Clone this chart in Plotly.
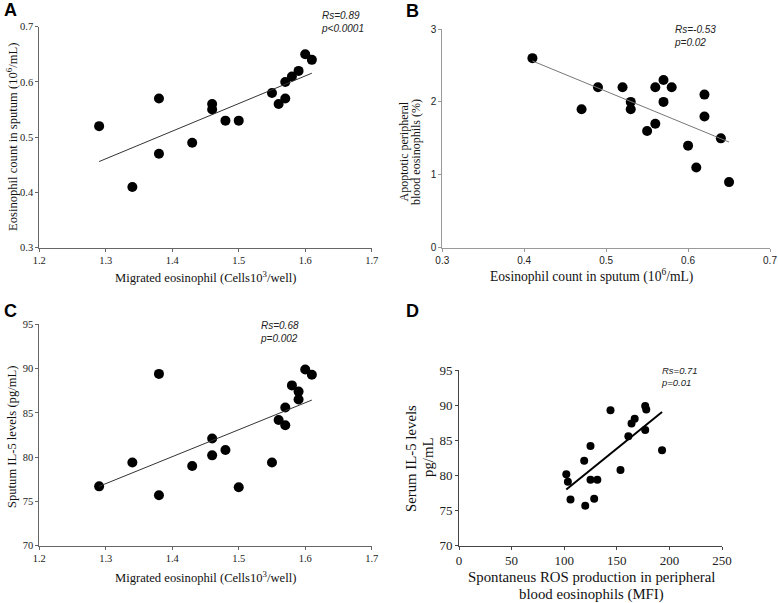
import numpy as np
import plotly.graph_objects as go

# panel A: migrated eosinophils vs sputum eosinophil count
migrated_a = [1.29, 1.34, 1.38, 1.38, 1.43, 1.46, 1.46, 1.48, 1.50, 1.55, 1.56, 1.57, 1.57, 1.58, 1.59, 1.60, 1.61]
sputum_eos_a = [0.52, 0.41, 0.57, 0.47, 0.49, 0.56, 0.55, 0.53, 0.53, 0.58, 0.56, 0.60, 0.57, 0.61, 0.62, 0.65, 0.64]

# panel B: sputum eosinophil count vs apoptotic blood eosinophils
sputum_eos_b = [0.41, 0.47, 0.49, 0.52, 0.53, 0.53, 0.55, 0.56, 0.56, 0.57, 0.57, 0.58, 0.60, 0.61, 0.62, 0.62, 0.64, 0.65]
apoptotic_b = [2.6, 1.9, 2.2, 2.2, 2.0, 1.9, 1.6, 2.2, 1.7, 2.3, 2.0, 2.2, 1.4, 1.1, 2.1, 1.8, 1.5, 0.9]

# panel C: migrated eosinophils vs sputum IL-5
migrated_c = [1.29, 1.34, 1.38, 1.38, 1.43, 1.46, 1.46, 1.48, 1.50, 1.55, 1.56, 1.57, 1.57, 1.58, 1.59, 1.59, 1.60, 1.61]
il5_c = [76.7, 79.4, 89.4, 75.7, 79.0, 82.1, 80.2, 80.8, 76.6, 79.4, 84.2, 85.6, 83.6, 88.1, 87.4, 86.5, 89.9, 89.3]

# panel D: ROS production vs serum IL-5
ros_d = [102, 103.5, 106, 119, 120, 125, 125, 128.5, 131.5, 144, 153.5, 161, 164, 167, 177, 178, 177, 193]
il5_d = [80.2, 79.1, 76.6, 82.1, 75.7, 84.2, 79.4, 76.7, 79.4, 89.3, 80.8, 85.6, 87.4, 88.1, 89.9, 89.4, 86.5, 83.6]

stats = {'A': 'Rs=0.89<br>p&lt;0.0001', 'B': 'Rs=-0.53<br>p=0.02',
         'C': 'Rs=0.68<br>p=0.002', 'D': 'Rs=0.71<br>p=0.01'}

W, H = 778, 603
SERIF = 'Liberation Serif, Times New Roman, serif'
SANS = 'Liberation Sans, Arial, sans-serif'


def px(x):
  return x / W


def py(y):
  return 1 - y / H


def add_panel(fig, n, xs, ys, msize, lcolor, lwidth):
  xa = 'x' if n == 1 else 'x%d' % n
  ya = 'y' if n == 1 else 'y%d' % n
  fig.add_trace(go.Scatter(x=xs, y=ys, mode='markers', xaxis=xa, yaxis=ya, cliponaxis=False,
                           marker=dict(color='black', size=msize), showlegend=False))
  slope, icpt = np.polyfit(xs, ys, 1)
  lx = np.array([min(xs), max(xs)])
  fig.add_trace(go.Scatter(x=lx, y=slope * lx + icpt, mode='lines', xaxis=xa, yaxis=ya,
                           line=dict(color=lcolor, width=lwidth), showlegend=False))


def axis(domain, rng, dtick, font, lcolor, anchor):
  return dict(domain=domain, range=rng, dtick=dtick, tick0=rng[0], showgrid=False, zeroline=False,
              showline=True, linecolor=lcolor, linewidth=1, ticks='outside', ticklen=3,
              tickcolor=lcolor, tickwidth=1, tickfont=font, anchor=anchor, automargin=False)


fig = go.Figure()
add_panel(fig, 1, migrated_a, sputum_eos_a, 10, '#333333', 1)
add_panel(fig, 2, sputum_eos_b, apoptotic_b, 10, '#777777', 1)
add_panel(fig, 3, migrated_c, il5_c, 10, '#333333', 1)
add_panel(fig, 4, ros_d, il5_d, 8, 'black', 2)

serif10 = dict(family=SERIF, size=10.5, color='#222')
sans10 = dict(family=SANS, size=10, color='#222')
serif13 = dict(family=SERIF, size=13, color='#222')

fig.update_layout(
  template='none',
  width=W, height=H, margin=dict(l=0, r=0, t=0, b=0, autoexpand=False),
  plot_bgcolor='white', paper_bgcolor='white',
  xaxis=axis([px(39.3), px(371.7)], [1.2, 1.7], 0.1, serif10, '#666', 'y'),
  yaxis=axis([py(247.7), py(26.7)], [0.3, 0.7], 0.1, serif10, '#666', 'x'),
  xaxis2=axis([px(442.3), px(770)], [0.3, 0.7], 0.1, sans10, '#999', 'y2'),
  yaxis2=axis([py(247.7), py(29)], [0, 3], 1, sans10, '#999', 'x2'),
  xaxis3=axis([px(39.3), px(371.7)], [1.2, 1.7], 0.1, serif10, '#666', 'y3'),
  yaxis3=axis([py(545.7), py(324.3)], [70, 95], 5, serif10, '#666', 'x3'),
  xaxis4=axis([px(459), px(722)], [0, 250], 50, serif13, '#444', 'y4'),
  yaxis4=axis([py(545.7), py(370.3)], [70, 95], 5, serif13, '#444', 'x4'),
)

notes = []


def note(text, x, y, font, angle=0, xanchor='center', align='center'):
  notes.append(dict(text=text, x=px(x), y=py(y), xref='paper', yref='paper', showarrow=False,
                    font=font, textangle=angle, xanchor=xanchor, yanchor='middle', align=align))


title_font = dict(family=SERIF, size=12.6, color='#111')
b_xtitle = dict(family=SERIF, size=13.6, color='#111')
b_title = dict(family=SERIF, size=12, color='#111')
big_title = dict(family=SERIF, size=14.8, color='#111')
letter_font = dict(family=SANS, size=18, color='black', weight='bold')
stat_font = dict(family=SANS, size=10, color='#222', style='italic')

# panel letters
note('A', 10, 10, letter_font)
note('B', 412, 11, letter_font)
note('C', 10, 311, letter_font)
note('D', 412, 311, letter_font)

# axis titles
note('Migrated eosinophil (Cells10<sup>3</sup>/well)', 205, 277, title_font)
note('Eosinophil count in sputum (10<sup>6</sup>/mL)', 12, 137, title_font, angle=-90)
note('Eosinophil count in sputum (10<sup>6</sup>/mL)', 591, 276, b_xtitle)
note('Apoptotic peripheral', 403.5, 152, b_title, angle=-90)
note('blood eosinophils (%)', 416, 152, b_title, angle=-90)
note('Migrated eosinophil (Cells10<sup>3</sup>/well)', 205, 577, title_font)
note('Sputum IL-5 levels (pg/mL)', 12, 437, title_font, angle=-90)
note('Spontaneus ROS production in peripheral', 591, 577, big_title)
note('blood eosinophils (MFI)', 591, 594, big_title)
note('Serum IL-5 levels', 411, 458, big_title, angle=-90)
note('pg/mL', 428, 458, big_title, angle=-90)

# correlation statistics
note(stats['A'], 319, 22, stat_font, xanchor='left', align='left')
note(stats['B'], 672, 36, stat_font, xanchor='left', align='left')
note(stats['C'], 258, 332, stat_font, xanchor='left', align='left')
note(stats['D'], 659, 376, dict(family=SANS, size=9.5, color='#222', style='italic'),
     xanchor='left', align='left')

fig.update_layout(annotations=notes)
fig.write_html("out.html", config={'displayModeBar': False},
               post_script="document.body.style.margin='0';")
